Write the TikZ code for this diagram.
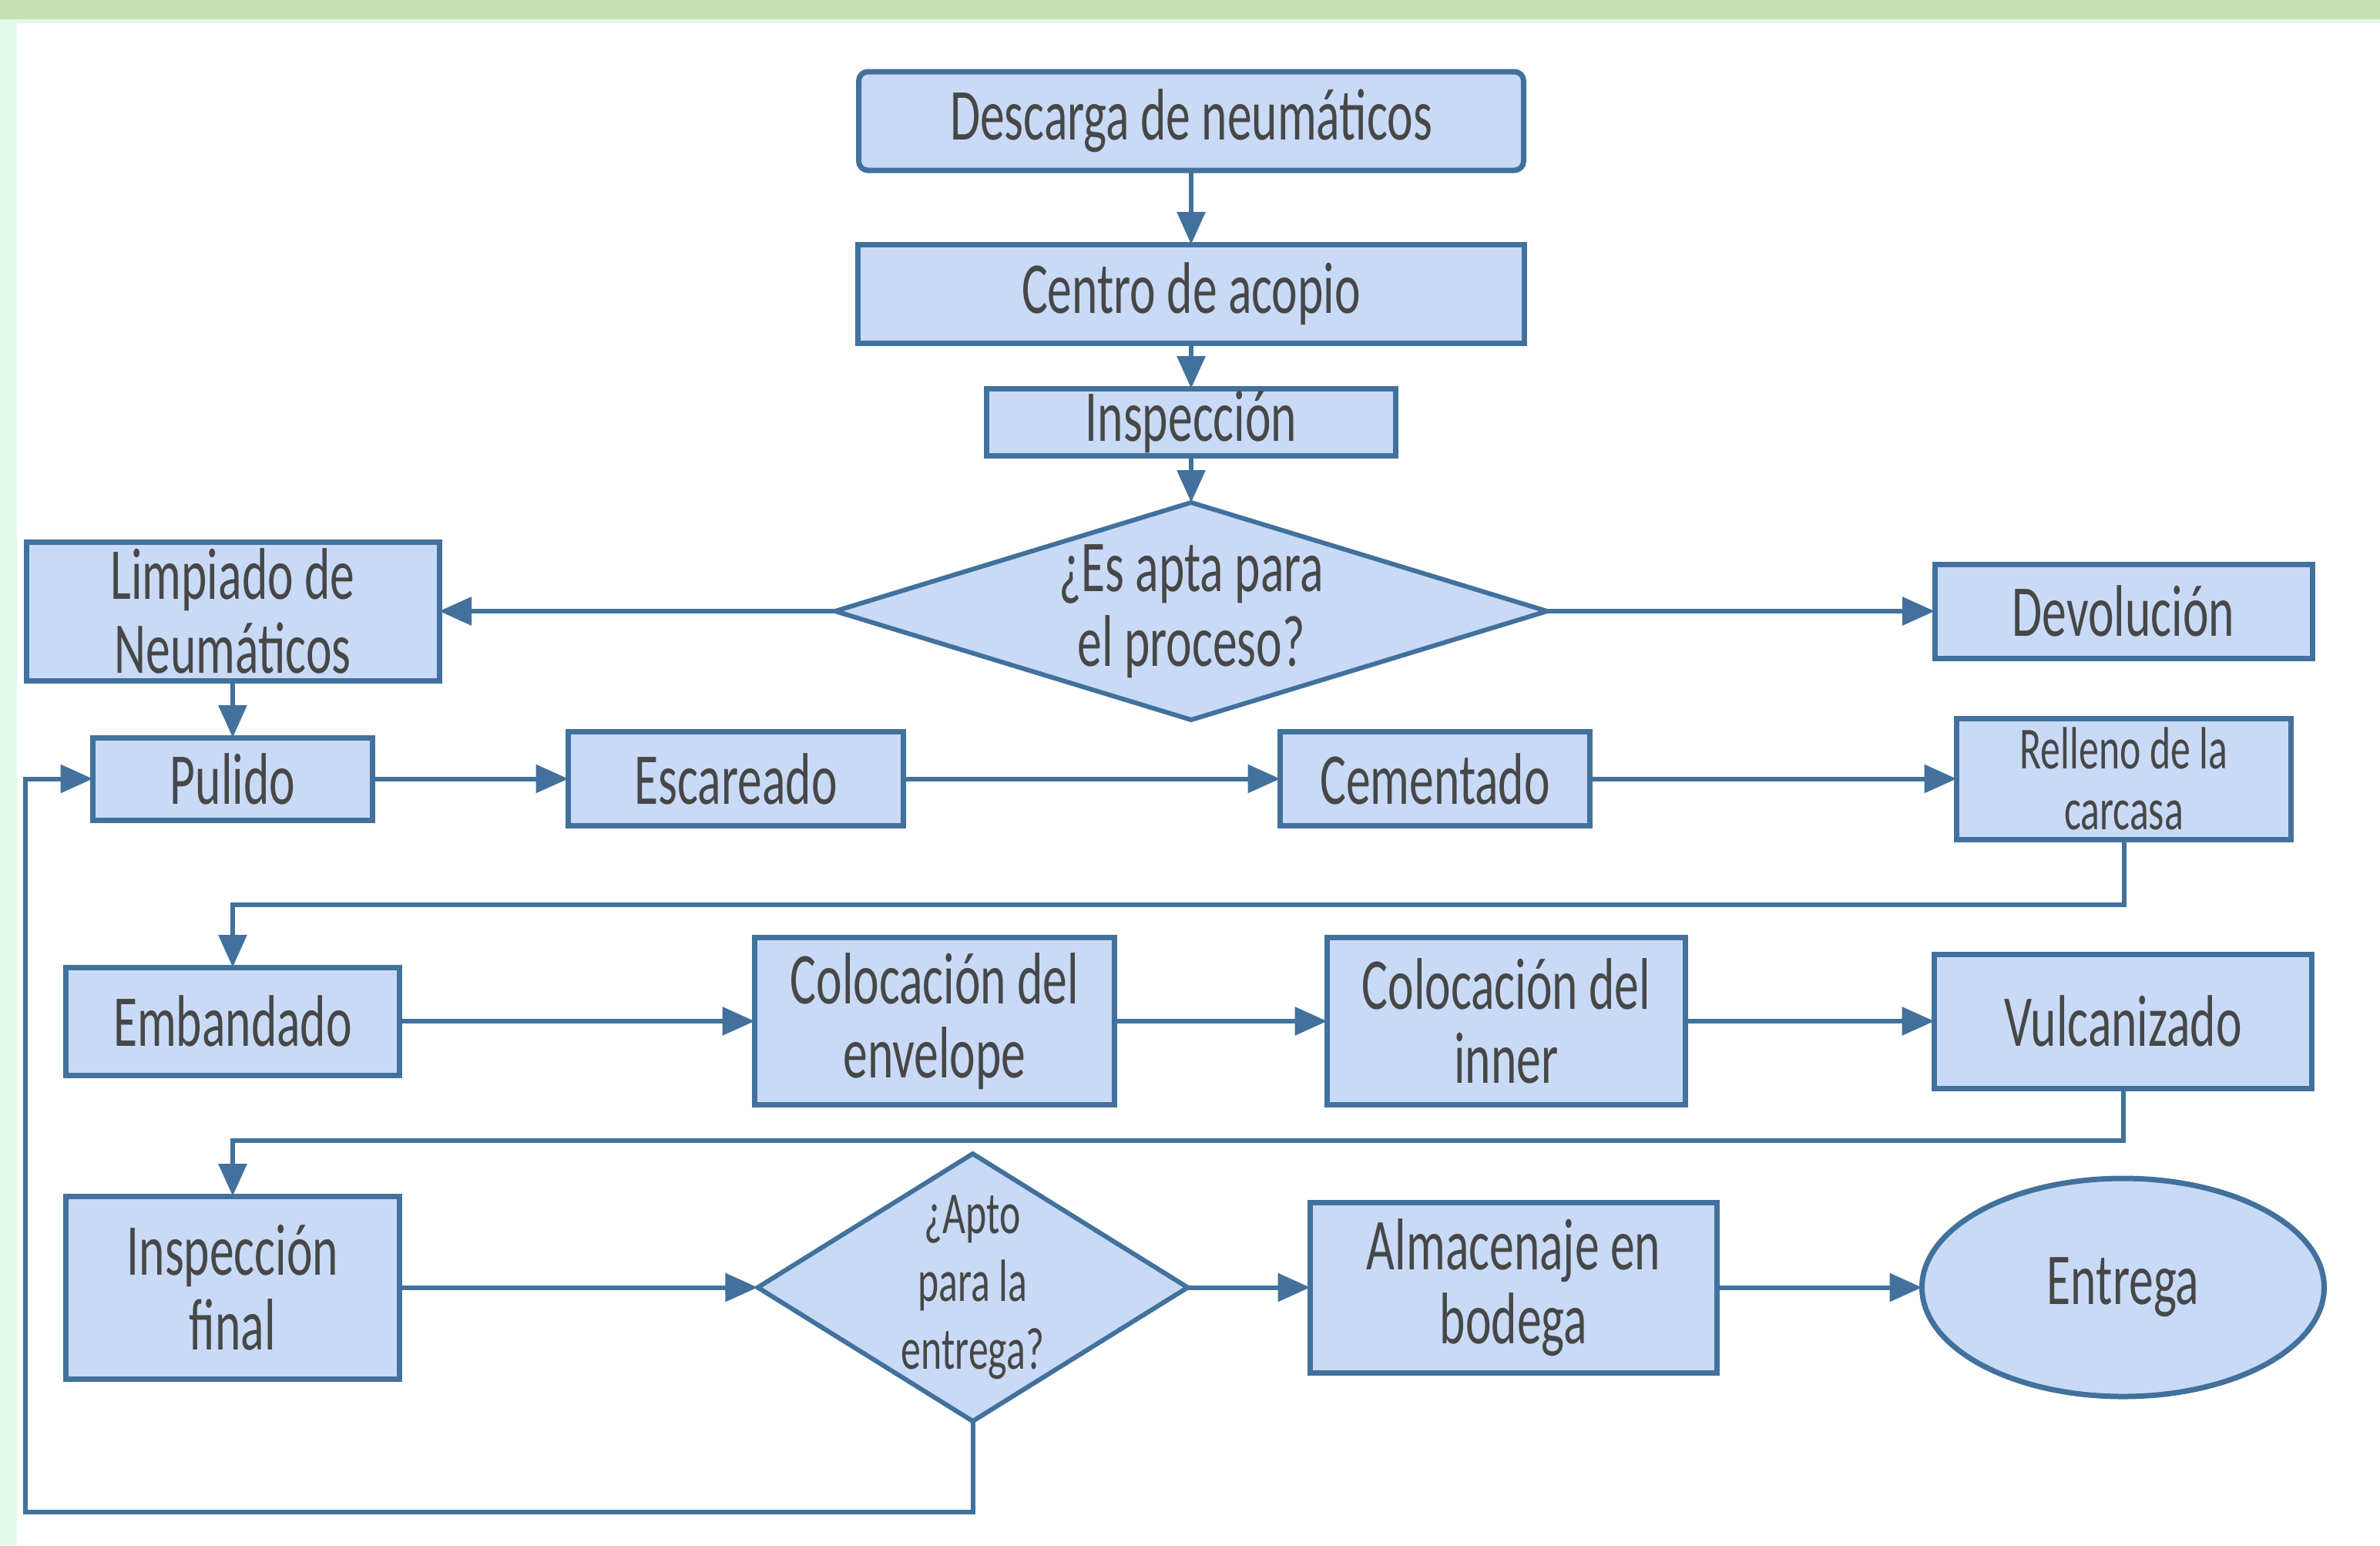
\documentclass[tikz,border=0pt]{standalone}
\usepackage{fontspec}
\setmainfont{Carlito}[FakeStretch=0.67]
\usepackage{xcolor}
\usepackage{tikz}
\usetikzlibrary{shapes,arrows,positioning,calc,shapes.geometric,arrows.meta}
\definecolor{azulfondo}{HTML}{C9DAF6}
\definecolor{azulborde}{HTML}{41719C}
\definecolor{textogris}{HTML}{474747}
\definecolor{verdebanda}{HTML}{C5E0B4}
\definecolor{verdeclaro}{HTML}{E0F8E8}

\begin{document}
\begin{tikzpicture}[>={Triangle[length=4.2mm,width=3.6mm]}, node distance=1cm,
    paso/.style={draw=azulborde, fill=azulfondo, line width=0.7mm, rectangle, align=center, inner sep=0pt, outer sep=0pt, text=textogris, font=\fontsize{27}{27.5}\selectfont},
    decision/.style={draw=azulborde, fill=azulfondo, line width=0.6mm, diamond, inner sep=0pt, outer sep=0pt},
    dtexto/.style={text=textogris, align=center, inner sep=0pt},
    flecha/.style={->, draw=azulborde, line width=0.6mm}]
    \useasboundingbox (0,0) rectangle (30.89,-20.05);
    \fill[white] (0,0) rectangle (30.89,-20.05);
    \fill[verdeclaro] (0,-0.25) rectangle (30.89,-0.30);
    \fill[verdeclaro] (0,-0.25) rectangle (0.22,-20.05);
    \fill[verdebanda] (0,0) rectangle (30.89,-0.25);

    \node[paso, rounded corners=1.2mm, minimum width=8.63cm, minimum height=1.28cm] (desc) at (15.46,-1.57) {Descarga de neumáticos};
    \node[paso, minimum width=8.65cm, minimum height=1.28cm, below=0.96cm of desc] (acopio) {Centro de acopio};
    \node[paso, minimum width=5.31cm, minimum height=0.87cm, below=0.59cm of acopio] (insp) {Inspección};
    \node[decision, minimum width=9.24cm, minimum height=2.82cm, below=0.61cm of insp, label={[dtexto, font=\fontsize{27}{27.5}\selectfont]center:¿Es apta para\\el proceso?}] (apta) {};
    \node[paso, minimum width=5.36cm, minimum height=1.80cm, left=5.14cm of apta] (limp) {Limpiado de\\Neumáticos};
    \node[paso, minimum width=4.90cm, minimum height=1.22cm, right=5.03cm of apta] (devol) {Devolución};
    \node[paso, minimum width=3.63cm, minimum height=1.07cm, below=0.74cm of limp] (pulido) {Pulido};
    \node[paso, minimum width=4.35cm, minimum height=1.22cm, right=2.54cm of pulido] (escar) {Escareado};
    \node[paso, minimum width=4.02cm, minimum height=1.22cm, right=4.89cm of escar] (cement) {Cementado};
    \node[paso, minimum width=4.34cm, minimum height=1.57cm, right=4.76cm of cement, font=\fontsize{22}{22.5}\selectfont] (rellcar) {Relleno de la\\carcasa};
    \node[paso, minimum width=4.33cm, minimum height=1.40cm, below=1.91cm of pulido] (emband) {Embandado};
    \node[paso, minimum width=4.67cm, minimum height=2.17cm, right=4.61cm of emband] (envel) {Colocación del\\envelope};
    \node[paso, minimum width=4.65cm, minimum height=2.17cm, right=2.76cm of envel] (inner) {Colocación del\\inner};
    \node[paso, minimum width=4.90cm, minimum height=1.74cm, right=3.23cm of inner] (vulc) {Vulcanizado};
    \node[paso, minimum width=4.33cm, minimum height=2.37cm, below=1.57cm of emband] (inspfin) {Inspección\\final};
    \node[decision, minimum width=5.58cm, minimum height=3.47cm, right=4.65cm of inspfin, label={[dtexto, font=\fontsize{22}{25}\selectfont]center:¿Apto\\para la\\entrega?}] (aptoent) {};
    \node[paso, minimum width=5.28cm, minimum height=2.21cm, right=1.59cm of aptoent] (almac) {Almacenaje en\\bodega};
    \node[paso, ellipse, minimum width=5.22cm, minimum height=2.83cm, right=2.66cm of almac] (entrega) {Entrega};
    \coordinate (retorno) at (0.33,-19.62);

    \draw[flecha] (desc) -- (acopio);
    \draw[flecha] (acopio) -- (insp);
    \draw[flecha] (insp) -- (apta);
    \draw[flecha] (apta) -- (limp);
    \draw[flecha] (apta) -- (devol);
    \draw[flecha] (limp) -- (pulido);
    \draw[flecha] (pulido) -- (escar);
    \draw[flecha] (escar) -- (cement);
    \draw[flecha] (cement) -- (rellcar);
    \draw[flecha] (rellcar.south) -- ++(0,-0.85) -| (emband.north);
    \draw[flecha] (emband) -- (envel);
    \draw[flecha] (envel) -- (inner);
    \draw[flecha] (inner) -- (vulc);
    \draw[flecha] (vulc.south) -- ++(0,-0.68) -| (inspfin.north);
    \draw[flecha] (inspfin) -- (aptoent);
    \draw[flecha] (aptoent) -- (almac);
    \draw[flecha] (almac) -- (entrega);
    \draw[flecha] (aptoent.south) |- (retorno) |- (pulido.west);
\end{tikzpicture}
\end{document}
